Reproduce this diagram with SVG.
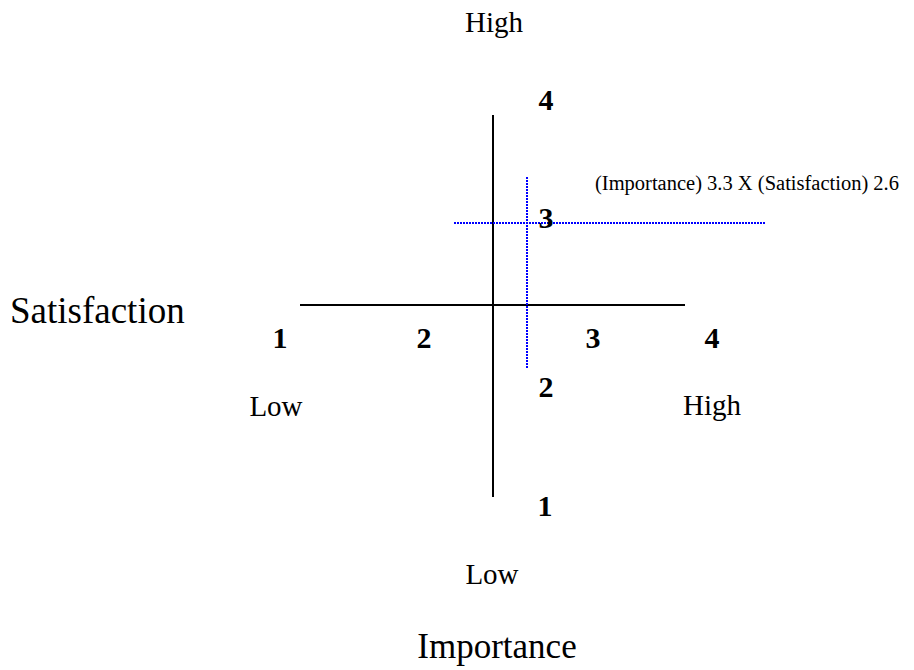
<svg xmlns="http://www.w3.org/2000/svg" width="914" height="670" viewBox="0 0 914 670">
<style>
.t{font-family:"Liberation Serif","Times New Roman",serif;fill:#000}
.lbl{font-size:29px}
.num{font-size:30px;font-weight:bold}
.note{font-size:20.5px}
.axis{stroke:#000;stroke-width:2;fill:none}
.ref{stroke:#0000ff;stroke-width:2;stroke-dasharray:2 1;fill:none}
</style>
<rect width="914" height="670" fill="#fff"/>
<g id="connectors">
<line class="axis" x1="493" y1="115" x2="493" y2="497"/>
<line class="axis" x1="300" y1="305" x2="685" y2="305"/>
<line class="ref" x1="527" y1="177" x2="527" y2="368"/>
<line class="ref" x1="454" y1="223" x2="766" y2="223"/>
</g>
<g id="labels">
<text class="t lbl" x="494" y="32" text-anchor="middle">High</text>
<text class="t num" x="546" y="110" text-anchor="middle">4</text>
<text class="t note" x="595" y="190">(Importance) 3.3 X (Satisfaction) 2.6</text>
<text class="t num" x="546" y="228" text-anchor="middle">3</text>
<text class="t" x="10" y="323" font-size="37">Satisfaction</text>
<text class="t num" x="280" y="348" text-anchor="middle">1</text>
<text class="t num" x="424" y="348" text-anchor="middle">2</text>
<text class="t num" x="593" y="348" text-anchor="middle">3</text>
<text class="t num" x="712" y="348" text-anchor="middle">4</text>
<text class="t num" x="546" y="397" text-anchor="middle">2</text>
<text class="t lbl" x="276" y="416" text-anchor="middle">Low</text>
<text class="t lbl" x="712" y="415" text-anchor="middle">High</text>
<text class="t num" x="545" y="516" text-anchor="middle">1</text>
<text class="t lbl" x="492" y="584" text-anchor="middle">Low</text>
<text class="t" x="497" y="658" font-size="35" text-anchor="middle">Importance</text>
</g>
</svg>
